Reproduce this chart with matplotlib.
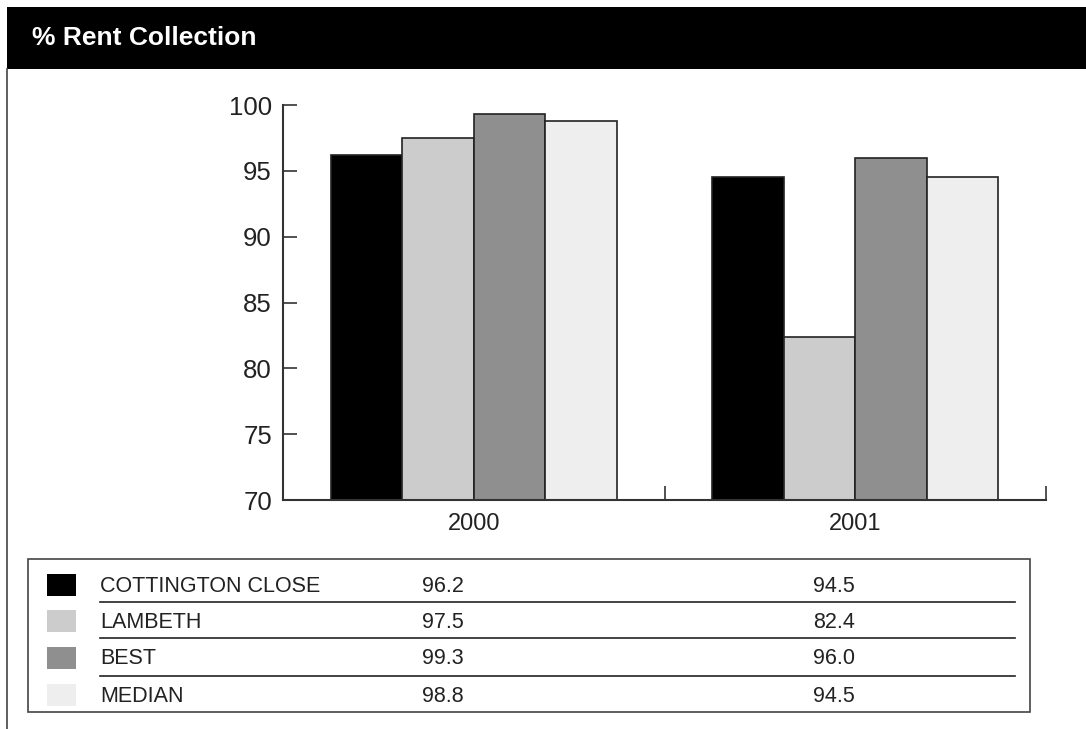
import matplotlib
matplotlib.use("Agg")
import matplotlib.pyplot as plt
from matplotlib.patches import Rectangle
from matplotlib.lines import Line2D
import numpy as np

plt.rcParams['font.family'] = ['Liberation Sans', 'DejaVu Sans']

title = "% Rent Collection"
years = ["2000", "2001"]
series = ["COTTINGTON CLOSE", "LAMBETH", "BEST", "MEDIAN"]
values = {
    "COTTINGTON CLOSE": [96.2, 94.5],
    "LAMBETH": [97.5, 82.4],
    "BEST": [99.3, 96.0],
    "MEDIAN": [98.8, 94.5],
}
colors = ["#000000", "#cccccc", "#8f8f8f", "#eeeeee"]
yticks = [70, 75, 80, 85, 90, 95, 100]

W, H = 1086, 729
fig = plt.figure(figsize=(W / 100, H / 100), dpi=100)

# overlay in pixel coordinates for decoration and table
ov = fig.add_axes([0, 0, 1, 1], zorder=0)
ov.set_xlim(0, W)
ov.set_ylim(H, 0)
ov.axis('off')

# title bar
ov.add_patch(Rectangle((7, 7), W - 7, 62, facecolor='black', edgecolor='none'))
ov.text(32, 38, title, color='white', fontsize=19, fontweight='bold',
        va='center', ha='left')
ov.add_line(Line2D([7, 7], [69, H], color='#444444', lw=1.2))

# chart
left, right, top, bottom = 283, 1046, 105, 500
ax = fig.add_axes([left / W, 1 - bottom / H, (right - left) / W, (bottom - top) / H], zorder=1)
x = np.arange(len(years))
bw = 0.1875
n = len(series)
for i, (s, c) in enumerate(zip(series, colors)):
    offs = (i - (n - 1) / 2) * bw
    ax.bar(x + offs, [v - 70 for v in values[s]], bw, bottom=70, color=c,
           edgecolor='#222222', linewidth=1.2, zorder=2)
ax.set_xlim(-0.5, len(years) - 0.5)
ax.set_ylim(70, 100)
ax.set_yticks(yticks)
ax.set_yticklabels([str(t) for t in yticks])
ax.set_xticks(x)
ax.set_xticklabels(years)
ax.set_xticks(x + 0.5, minor=True)
ax.tick_params(axis='x', which='major', length=0, pad=9, labelsize=17, labelcolor='#222222')
ax.tick_params(axis='x', which='minor', direction='in', length=10, width=1.2, color='#333333')
ax.tick_params(axis='y', direction='in', length=10, width=1.2, color='#333333',
               pad=8, labelsize=18.5, labelcolor='#222222')
for sp in ['top', 'right']:
    ax.spines[sp].set_visible(False)
for sp in ['left', 'bottom']:
    ax.spines[sp].set_color('#333333')
    ax.spines[sp].set_linewidth(1.5)
ax.set_facecolor('none')

# data table
ov.add_patch(Rectangle((28, 559), 1030 - 28, 712 - 559, facecolor='none',
                       edgecolor='#444444', lw=1.2))
row_y = [586, 622, 659, 696]
val_x = [443, 834]
for i, (s, c) in enumerate(zip(series, colors)):
    y = row_y[i]
    ov.add_patch(Rectangle((47, y - 12), 29, 22, facecolor=c, edgecolor='none'))
    ov.text(100, y, s, fontsize=15.5, color='#222222', va='center', ha='left')
    for j, v in enumerate(values[s]):
        ov.text(val_x[j], y, f"{v:.1f}", fontsize=15.5, color='#222222', va='center', ha='center')
    if i < n - 1:
        ly = [602, 638, 676][i]
        ov.add_line(Line2D([100, 1015], [ly, ly], color='#222222', lw=1.2))

fig.savefig("out.png", dpi=100)
